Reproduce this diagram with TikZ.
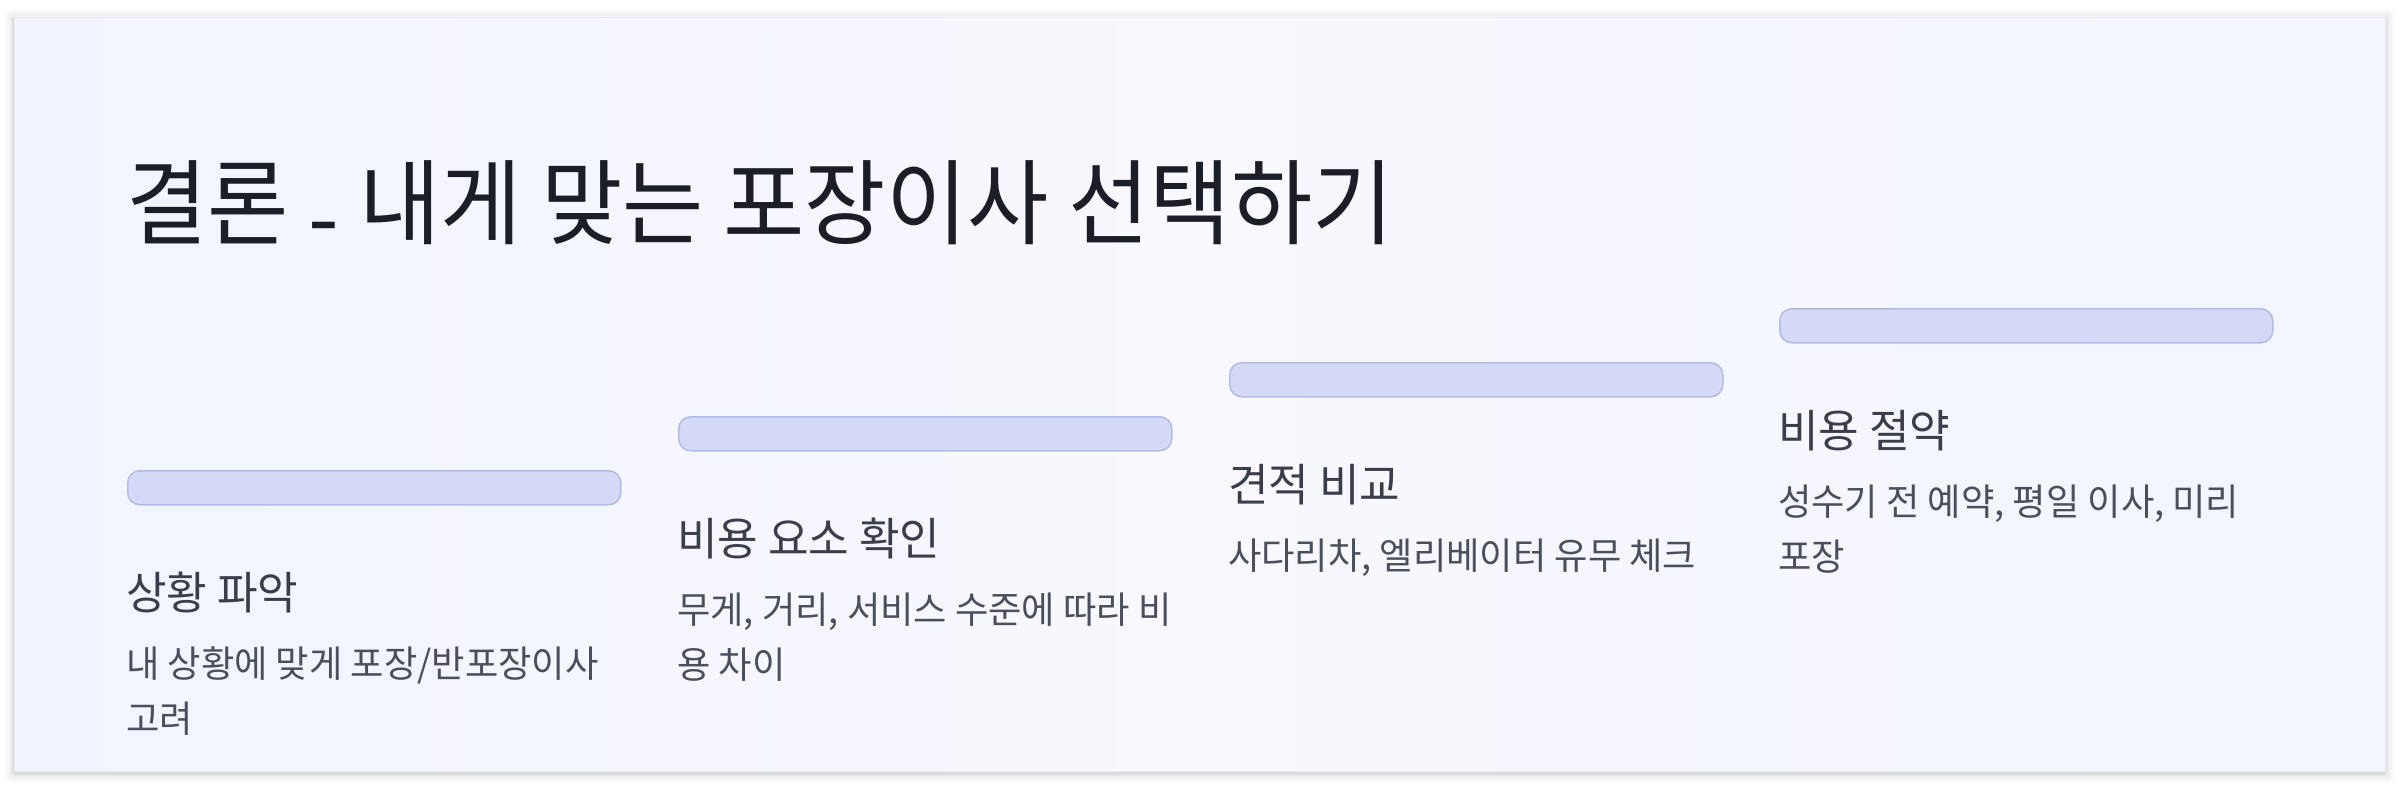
\documentclass[tikz,border=0pt]{standalone}
\usepackage{fontspec}
\newfontfamily\krtitle[FakeStretch=0.95]{Noto Sans CJK KR}
\newfontfamily\krhead[FakeStretch=0.98]{Noto Sans CJK KR}
\newfontfamily\krbody[FakeStretch=0.98]{Noto Sans CJK KR}
\definecolor{titlec}{HTML}{1B1E26}
\definecolor{headc}{HTML}{3A3E4B}
\definecolor{bodyc}{HTML}{4A4F5C}
\definecolor{barfill}{HTML}{D3D9F7}
\definecolor{barline}{HTML}{B3BCE6}
\definecolor{cardL}{HTML}{F1F4FE}
\definecolor{cardM}{HTML}{F8F8FE}
\definecolor{cardR}{HTML}{F2F5FE}
\tikzset{
  bar/.style={draw=barline, fill=barfill, line width=1.5pt, rounded corners=12pt,
    minimum width=493pt, minimum height=34pt, inner sep=0pt, anchor=north west},
  titletxt/.style={anchor=base west, inner sep=0pt, text=titlec,
    font=\krtitle\fontsize{93}{100}\selectfont},
  headtxt/.style={anchor=base west, inner sep=0pt, text=headc,
    font=\krhead\fontsize{45}{52}\selectfont},
  bodytxt/.style={anchor=base west, inner sep=0pt, text=bodyc,
    font=\krbody\fontsize{37}{44}\selectfont}
}
\begin{document}
\begin{tikzpicture}[x=1pt,y=-1pt]
\useasboundingbox (0,0) rectangle (2400,786);
\fill[white] (0,0) rectangle (2400,786);
% card shadow
\foreach \i/\o in {9/0.015,7/0.02,5/0.025,3/0.035,1.5/0.05}
  \fill[black,opacity=\o,rounded corners=3pt] (14-\i,17-\i+2) rectangle (2385+\i,771+\i+2);
% card
\shade[left color=cardL, right color=cardR, middle color=cardM] (14,17) rectangle (2385,771);
\draw[black!8, line width=0.8pt] (14,17) rectangle (2385,771);
% title
\node[titletxt] (title) at (126,238) {결론 \raisebox{-0.14em}{-} 내게 맞는 포장이사 선택하기};
% bars
\node[bar] (bar1) at (127,470) {};
\node[bar] (bar2) at (678,416) {};
\node[bar] (bar3) at (1229,362) {};
\node[bar] (bar4) at (1779,308) {};
% headings
\node[headtxt] (h1) at (126,609) {상황 파악};
\node[headtxt] (h2) at (677,555) {비용 요소 확인};
\node[headtxt] (h3) at (1228,501) {견적 비교};
\node[headtxt] (h4) at (1778,447) {비용 절약};
% bodies
\node[bodytxt] (b1a) at (126,677) {내 상황에 맞게 포장/반포장이사};
\node[bodytxt] (b1b) at (126,732) {고려};
\node[bodytxt] (b2a) at (677,623) {무게, 거리, 서비스 수준에 따라 비};
\node[bodytxt] (b2b) at (677,678) {용 차이};
\node[bodytxt] (b3a) at (1228,569) {사다리차, 엘리베이터 유무 체크};
\node[bodytxt] (b4a) at (1778,515) {성수기 전 예약, 평일 이사, 미리};
\node[bodytxt] (b4b) at (1778,570) {포장};
\end{tikzpicture}
\end{document}
